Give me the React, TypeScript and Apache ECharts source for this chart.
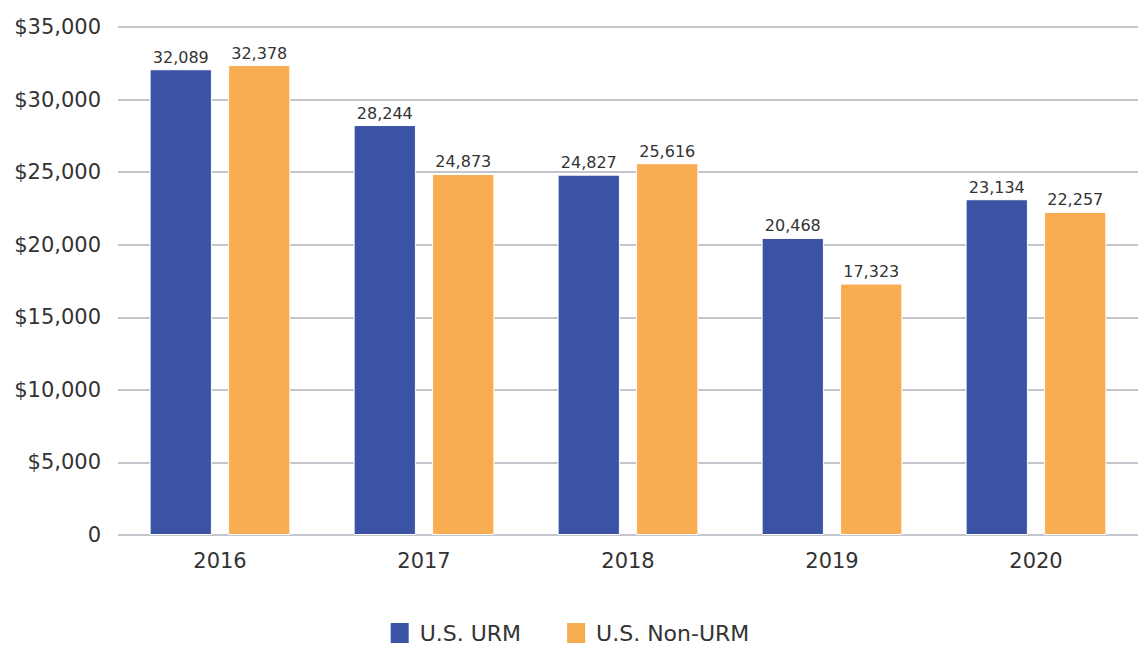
import React, { useEffect, useRef } from "react";
import * as echarts from "echarts";

const years = ["2016", "2017", "2018", "2019", "2020"];
const urm = [32089, 28244, 24827, 20468, 23134];
const nonUrm = [32378, 24873, 25616, 17323, 22257];
const seriesNames = ["U.S. URM", "U.S. Non-URM"];

const FONT = "'DejaVu Sans', 'Open Sans', sans-serif";

export default function App() {
  const ref = useRef<HTMLDivElement>(null);
  useEffect(() => {
    const chart = echarts.init(ref.current!, null, { renderer: "svg" });
    const fmtLabel = (p: any) => Number(p.value).toLocaleString("en-US");
    chart.setOption({
      animation: false,
      textStyle: { fontFamily: FONT },
      grid: { left: 118, right: 0, top: 27, bottom: 111 },
      legend: {
        left: "center",
        top: 616,
        icon: "rect",
        itemWidth: 20,
        itemHeight: 22,
        itemGap: 44,
        textStyle: { fontSize: 22, color: "#333", fontFamily: FONT, lineHeight: 22, padding: [0, 0, 0, 5] },
        data: seriesNames,
      },
      xAxis: {
        type: "category",
        data: years,
        axisTick: { show: false },
        axisLine: { show: false },
        axisLabel: { fontSize: 21, color: "#333", margin: 15, fontFamily: FONT },
      },
      yAxis: {
        type: "value",
        min: 0,
        max: 35000,
        interval: 5000,
        axisLine: { show: false },
        axisTick: { show: false },
        splitLine: { lineStyle: { color: "#c4c4cc", width: 2 } },
        axisLabel: {
          fontSize: 21,
          color: "#333",
          margin: 17,
          fontFamily: FONT,
          formatter: (v: number) => (v === 0 ? "0" : "$" + v.toLocaleString("en-US")),
        },
      },
      series: [
        {
          name: seriesNames[0],
          type: "bar",
          data: urm,
          barGap: "26%",
          barCategoryGap: "31%",
          itemStyle: { color: "#3a53a4", borderColor: "#ffffff", borderWidth: 1 },
          label: { show: true, position: "top", distance: 4, fontSize: 16, color: "#333", formatter: fmtLabel, fontFamily: FONT },
        },
        {
          name: seriesNames[1],
          type: "bar",
          data: nonUrm,
          itemStyle: { color: "#f9ad52", borderColor: "#ffffff", borderWidth: 1 },
          label: { show: true, position: "top", distance: 4, fontSize: 16, color: "#333", formatter: fmtLabel, fontFamily: FONT },
        },
      ],
    });
    return () => chart.dispose();
  }, []);
  return <div ref={ref} style={{ width: 1138, height: 646, position: "absolute", left: 0, top: 0 }} />;
}
